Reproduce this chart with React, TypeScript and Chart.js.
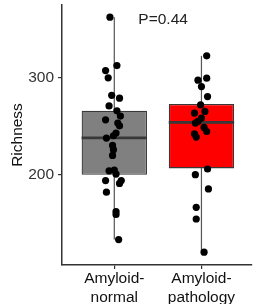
import React, { useEffect, useRef } from 'react';
import { Chart, registerables } from 'chart.js';

Chart.register(...registerables);

// ---- data ----
const categories: string[][] = [['Amyloid-', 'normal'], ['Amyloid-', 'pathology']];
const groupPositions = [1, 2];
const boxColors = ['#808080', '#ff0000'];
const q1 = [200, 206.5];
const medians = [238, 254];
const q3 = [266, 273];
const whiskerLow = [133, 120];
const whiskerHigh = [362.6, 322.7];

const normalValues = [362.6, 312.7, 307.5, 300, 282, 279, 271, 266, 260.5, 256.7, 253.3, 250.5, 243, 240.2, 237.8, 230.2, 225.8, 219.9, 204, 204.8, 200.7, 194, 194, 191, 182, 162, 159, 133];
const normalJitter = [-0.05, 0.03, -0.1, -0.07, -0.03, 0.06, -0.06, 0.03, 0.07, -0.1, 0.04, 0.06, 0.02, -0.01, -0.09, -0.02, -0.01, -0.02, -0.06, 0, 0.02, -0.1, 0.08, 0.06, -0.09, 0.02, 0.02, 0.05];
const pathologyValues = [322.7, 299.7, 297.6, 291, 280.7, 272, 265.3, 263.6, 258.5, 255, 253.3, 248.8, 244.6, 242.3, 238.9, 205.9, 200, 185.3, 166.3, 154.3, 120];
const pathologyJitter = [0.06, 0.06, -0.04, 0, 0.07, -0.01, 0.04, -0.08, 0, -0.04, -0.07, 0.03, 0.06, -0.08, -0.06, 0.07, -0.07, 0.08, -0.06, -0.06, 0.03];

const yTicks = [200, 300];
const yMin = 106.8;
const yMax = 375.2;
const xMin = 0.4;
const xMax = 2.58;
const yTitle = 'Richness';
const pLabel = 'P=0.44';
const pLabelPos = { x: 1.56, y: 360 };

const FONT = "'Liberation Sans', Arial, sans-serif";

const boxExtras = {
  id: 'boxExtras',
  beforeDatasetsDraw(chart: any) {
    const { ctx, scales } = chart;
    const x = scales.x;
    const y = scales.y;
    ctx.save();
    ctx.strokeStyle = '#555555';
    ctx.lineWidth = 1.2;
    groupPositions.forEach((g, i) => {
      const px = x.getPixelForValue(g);
      ctx.beginPath();
      ctx.moveTo(px, y.getPixelForValue(whiskerLow[i]));
      ctx.lineTo(px, y.getPixelForValue(whiskerHigh[i]));
      ctx.stroke();
    });
    ctx.restore();
  },
  afterDatasetDraw(chart: any, args: any) {
    if (args.index !== 1) return;
    const { ctx, scales } = chart;
    const y = scales.y;
    const meta = chart.getDatasetMeta(1);
    ctx.save();
    ctx.strokeStyle = '#383838';
    ctx.lineWidth = 2.6;
    meta.data.forEach((bar: any, i: number) => {
      const p = bar.getProps(['x', 'width'], true);
      const py = y.getPixelForValue(medians[i]);
      ctx.beginPath();
      ctx.moveTo(p.x - p.width / 2, py);
      ctx.lineTo(p.x + p.width / 2, py);
      ctx.stroke();
    });
    ctx.restore();
  },
  afterDraw(chart: any) {
    const { ctx, scales } = chart;
    ctx.save();
    ctx.fillStyle = '#222222';
    ctx.font = `15.5px ${FONT}`;
    ctx.textAlign = 'center';
    ctx.textBaseline = 'middle';
    ctx.fillText(pLabel, scales.x.getPixelForValue(pLabelPos.x), scales.y.getPixelForValue(pLabelPos.y));
    ctx.restore();
  },
};

export default function App() {
  const ref = useRef<HTMLCanvasElement>(null);

  useEffect(() => {
    if (!ref.current) return;
    const points = [
      ...normalValues.map((v, i) => ({ x: groupPositions[0] + normalJitter[i], y: v })),
      ...pathologyValues.map((v, i) => ({ x: groupPositions[1] + pathologyJitter[i], y: v })),
    ];
    const boxes = groupPositions.map((g, i) => ({ x: g, y: [q1[i], q3[i]] }));

    const chart = new Chart(ref.current, {
      type: 'bar',
      data: {
        datasets: [
          {
            type: 'scatter',
            data: points,
            pointRadius: 3.6,
            pointBackgroundColor: '#000000',
            pointBorderColor: '#000000',
            pointBorderWidth: 0,
          } as any,
          {
            type: 'bar',
            data: boxes as any,
            backgroundColor: boxColors,
            borderColor: '#383838',
            borderWidth: 1.3,
            borderSkipped: false,
            categoryPercentage: 1,
            barPercentage: 0.75,
            grouped: false,
          } as any,
        ],
      },
      options: {
        responsive: false,
        animation: false,
        devicePixelRatio: 1,
        layout: { padding: { top: 5, left: 0, right: 0, bottom: 0 } },
        plugins: { legend: { display: false }, tooltip: { enabled: false } },
        scales: {
          x: {
            type: 'linear',
            offset: false,
            min: xMin,
            max: xMax,
            afterBuildTicks: (scale: any) => {
              scale.ticks = groupPositions.map((v) => ({ value: v }));
            },
            afterFit: (scale: any) => {
              scale.height = 39;
              scale.paddingLeft = 0;
              scale.paddingRight = 0;
            },
            ticks: {
              callback: (v: any) => categories[groupPositions.indexOf(Number(v))] as any,
              color: '#111111',
              font: { family: FONT, size: 15.5, lineHeight: 1.22 },
              padding: 0,
              maxRotation: 0,
              autoSkip: false,
            },
            grid: { offset: false, drawOnChartArea: false, drawTicks: true, tickLength: 4, color: '#333333', lineWidth: 1.2 },
            border: { display: true, color: '#333333', width: 1.5 },
          },
          y: {
            type: 'linear',
            min: yMin,
            max: yMax,
            afterBuildTicks: (scale: any) => {
              scale.ticks = yTicks.map((v) => ({ value: v }));
            },
            afterFit: (scale: any) => {
              scale.width = 62;
              scale.paddingTop = 0;
              scale.paddingBottom = 0;
            },
            ticks: {
              color: '#333333',
              font: { family: FONT, size: 15.5 },
              padding: 4,
            },
            grid: { drawOnChartArea: false, drawTicks: true, tickLength: 4, color: '#333333', lineWidth: 1.2 },
            border: { display: true, color: '#333333', width: 1.5 },
            title: {
              display: true,
              text: yTitle,
              color: '#111111',
              font: { family: FONT, size: 15.5 },
              padding: { top: 8, bottom: 0 },
            },
          },
        },
      },
      plugins: [boxExtras],
    } as any);
    return () => chart.destroy();
  }, []);

  return (
    <canvas
      ref={ref}
      width={256}
      height={304}
      style={{ position: 'absolute', left: 0, top: 0, width: 256, height: 304 }}
    />
  );
}
